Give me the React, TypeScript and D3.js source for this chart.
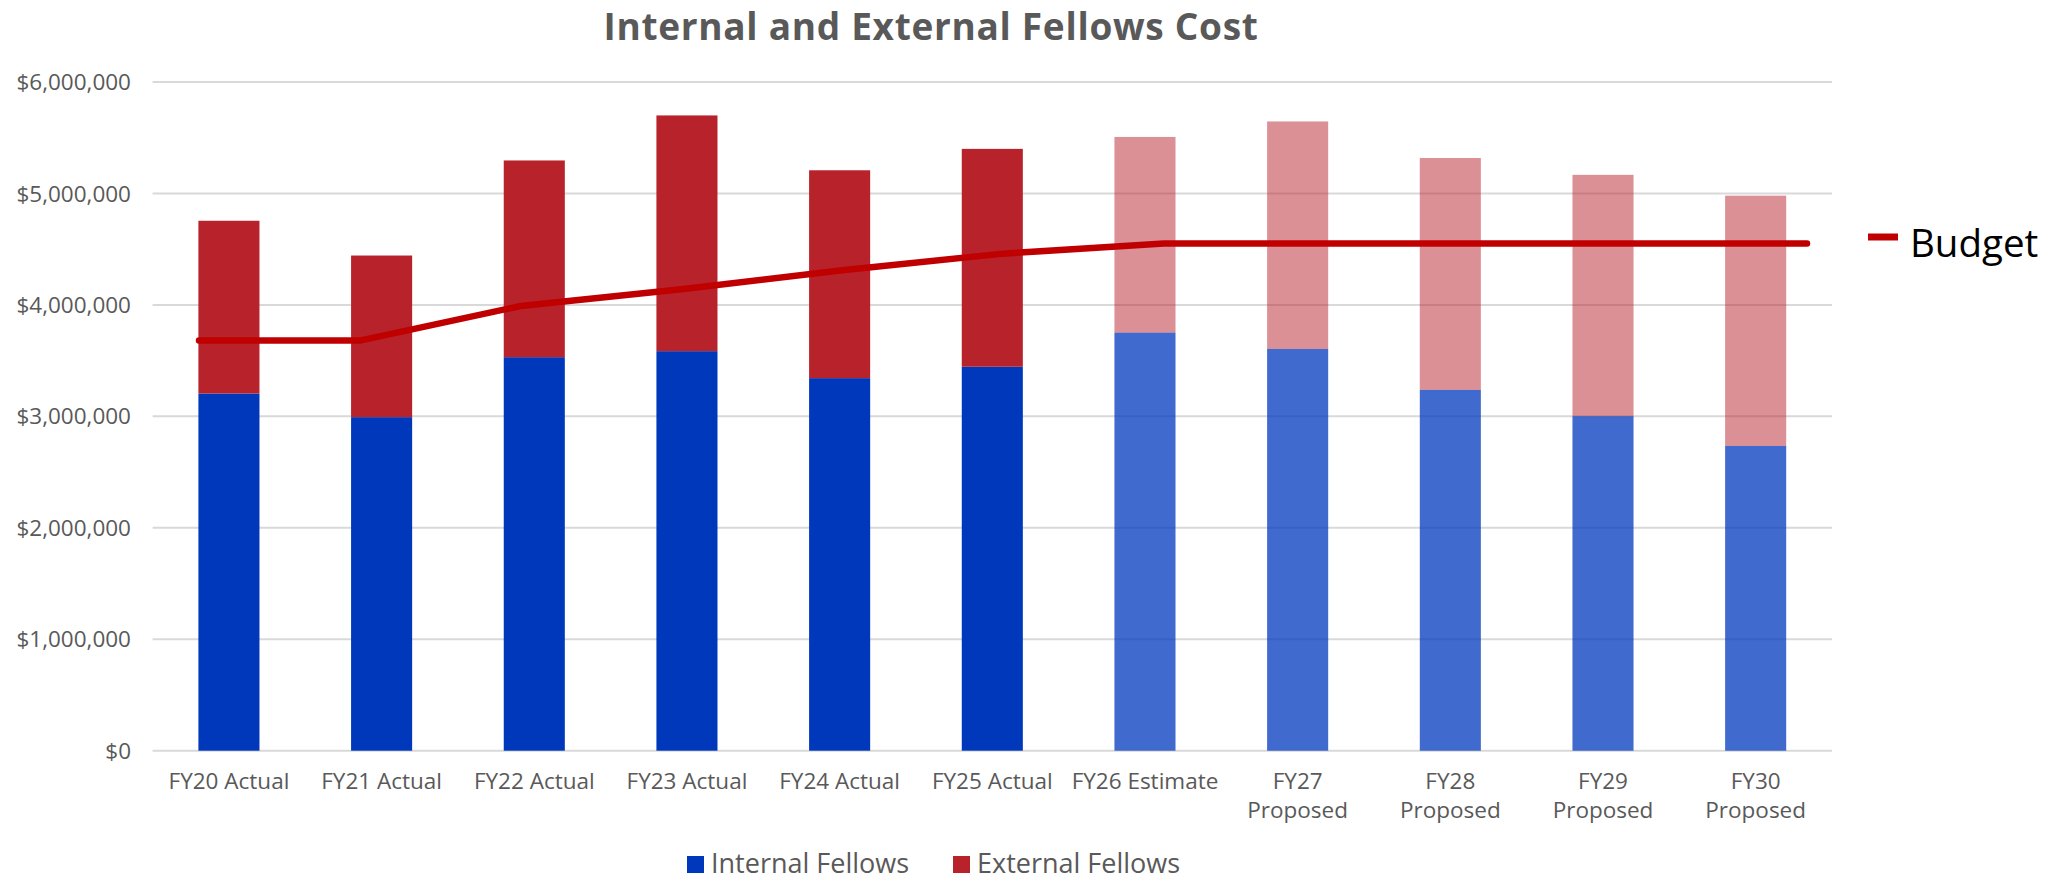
import React, { useEffect, useRef } from "react";
import * as d3 from "d3";

// fiscal years on the x axis, wrapped the same way the sheet wraps them
const categories = [
  "FY20 Actual",
  "FY21 Actual",
  "FY22 Actual",
  "FY23 Actual",
  "FY24 Actual",
  "FY25 Actual",
  "FY26 Estimate",
  "FY27 Proposed",
  "FY28 Proposed",
  "FY29 Proposed",
  "FY30 Proposed",
];
const tickLines = [
  ["FY20 Actual"],
  ["FY21 Actual"],
  ["FY22 Actual"],
  ["FY23 Actual"],
  ["FY24 Actual"],
  ["FY25 Actual"],
  ["FY26 Estimate"],
  ["FY27", "Proposed"],
  ["FY28", "Proposed"],
  ["FY29", "Proposed"],
  ["FY30", "Proposed"],
];

const internalFellows = [
  3205000, 2993000, 3531000, 3585000, 3343000, 3445000, 3752000, 3606000,
  3238000, 3002000, 2735000,
];
const externalFellows = [
  1550000, 1450000, 1765000, 2115000, 1865000, 1955000, 1755000, 2040000,
  2080000, 2165000, 2245000,
];
const budget = [
  3680000, 3680000, 3990000, 4140000, 4310000, 4460000, 4550000, 4550000,
  4550000, 4550000, 4550000,
];
// first year that is not an actual
const firstForecast = 6;

const yTicks = [0, 1000000, 2000000, 3000000, 4000000, 5000000, 6000000];

const W = 2070;
const H = 882;
const labelFont = "'Open Sans', 'Liberation Sans', sans-serif";
const grey = "#595959";

const App = () => {
  const ref = useRef<SVGSVGElement>(null);

  useEffect(() => {
    document.body.style.margin = "0";
    const svg = d3.select(ref.current);
    svg.selectAll("*").remove();

    const x = d3
      .scaleBand()
      .domain(categories)
      .range([152.6, 1832])
      .paddingInner(0.6)
      .paddingOuter(0.3);
    // the budget line sits on its own (secondary) category axis
    const xLine = d3.scalePoint().domain(categories).range([199, 1807]);
    const y = d3.scaleLinear().domain([0, 6000000]).range([750.7, 82]);

    // gridlines
    svg
      .append("g")
      .selectAll("line")
      .data(yTicks)
      .enter()
      .append("line")
      .attr("x1", 152.6)
      .attr("x2", 1832)
      .attr("y1", (d) => y(d))
      .attr("y2", (d) => y(d))
      .attr("stroke", "#d9d9d9")
      .attr("stroke-width", 2);

    const fmt = d3.format("$,.0f");
    svg
      .append("g")
      .selectAll("text")
      .data(yTicks)
      .enter()
      .append("text")
      .attr("x", 131)
      .attr("y", (d) => y(d))
      .attr("dy", "0.36em")
      .attr("text-anchor", "end")
      .attr("font-family", labelFont)
      .attr("font-size", 22.5)
      .attr("fill", grey)
      .text((d) => fmt(d));

    // stacked bars
    const rows = categories.map((c, i) => ({
      c,
      i,
      internal: internalFellows[i],
      external: externalFellows[i],
    }));
    const stack = d3.stack<any>().keys(["internal", "external"])(rows);
    const colors: Record<string, string> = {
      internal: "#0038bc",
      external: "#b8222b",
    };
    const fades: Record<string, number> = { internal: 0.75, external: 0.5 };

    stack.forEach((layer) => {
      svg
        .append("g")
        .selectAll("rect")
        .data(layer)
        .enter()
        .append("rect")
        .attr("x", (d) => x(d.data.c)!)
        .attr("width", x.bandwidth())
        .attr("y", (d) => y(d[1]))
        .attr("height", (d) => y(d[0]) - y(d[1]))
        .attr("fill", colors[layer.key])
        .attr("fill-opacity", (d) =>
          d.data.i >= firstForecast ? fades[layer.key] : 1
        );
    });

    // budget line
    const line = d3
      .line<number>()
      .x((_, i) => xLine(categories[i])!)
      .y((d) => y(d));
    svg
      .append("path")
      .attr("d", line(budget)!)
      .attr("fill", "none")
      .attr("stroke", "#c00000")
      .attr("stroke-width", 6.5)
      .attr("stroke-linejoin", "round")
      .attr("stroke-linecap", "round");

    // x tick labels
    const ticks = svg
      .append("g")
      .selectAll("text")
      .data(tickLines)
      .enter()
      .append("text")
      .attr("text-anchor", "middle")
      .attr("font-family", labelFont)
      .attr("font-size", 22.5)
      .attr("fill", grey)
      .attr(
        "transform",
        (_, i) => `translate(${x(categories[i])! + x.bandwidth() / 2},789)`
      );
    ticks
      .selectAll("tspan")
      .data((d) => d)
      .enter()
      .append("tspan")
      .attr("x", 0)
      .attr("y", (_, j) => j * 29)
      .text((d) => d);

    // title
    svg
      .append("text")
      .attr("x", 931)
      .attr("y", 40)
      .attr("text-anchor", "middle")
      .attr("font-family", labelFont)
      .attr("font-weight", 700)
      .attr("font-size", 37)
      .attr("letter-spacing", 0.7)
      .attr("fill", grey)
      .text("Internal and External Fellows Cost");

    // right legend for the line
    svg
      .append("line")
      .attr("x1", 1868)
      .attr("x2", 1898)
      .attr("y1", 237)
      .attr("y2", 237)
      .attr("stroke", "#c00000")
      .attr("stroke-width", 7);
    svg
      .append("text")
      .attr("x", 1910)
      .attr("y", 257)
      .attr("font-family", labelFont)
      .attr("font-size", 38.5)
      .attr("fill", "#000")
      .text("Budget");

    // bottom legend for the bars
    const legend = [
      { name: "Internal Fellows", color: colors.internal, x: 687 },
      { name: "External Fellows", color: colors.external, x: 953 },
    ];
    const lg = svg
      .append("g")
      .selectAll("g")
      .data(legend)
      .enter()
      .append("g")
      .attr("transform", (d) => `translate(${d.x},856)`);
    lg.append("rect")
      .attr("width", 17)
      .attr("height", 17)
      .attr("fill", (d) => d.color);
    lg.append("text")
      .attr("x", 24)
      .attr("y", 17)
      .attr("font-family", labelFont)
      .attr("font-size", 27)
      .attr("fill", grey)
      .text((d) => d.name);
  }, []);

  return (
    <svg
      ref={ref}
      width={W}
      height={H}
      style={{ display: "block", background: "#fff" }}
    ></svg>
  );
};

export default App;
